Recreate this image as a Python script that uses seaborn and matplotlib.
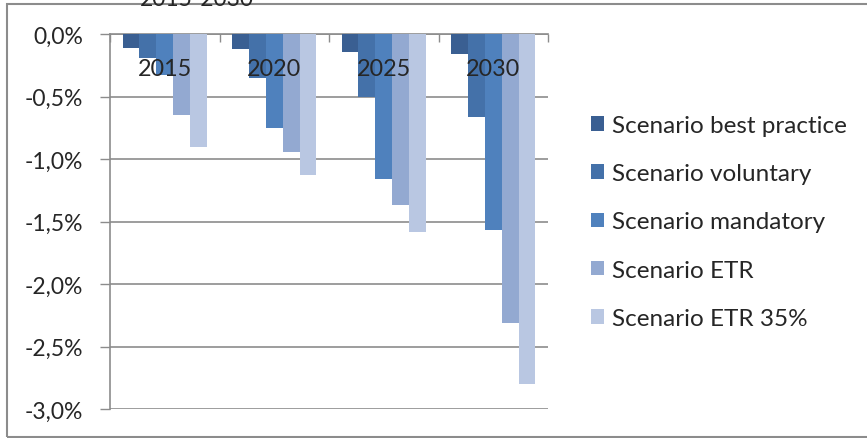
import numpy as np
import pandas as pd
import seaborn as sns
import matplotlib.pyplot as plt
from matplotlib.patches import Rectangle
from matplotlib.ticker import FuncFormatter

# values, in percent
years = ["2015", "2020", "2025", "2030"]
scenarios = ["Scenario best practice", "Scenario voluntary", "Scenario mandatory",
             "Scenario ETR", "Scenario ETR 35%"]
best_practice = [-0.11, -0.12, -0.14, -0.16]
voluntary = [-0.19, -0.35, -0.50, -0.66]
mandatory = [-0.33, -0.75, -1.16, -1.57]
etr = [-0.65, -0.94, -1.37, -2.31]
etr35 = [-0.90, -1.13, -1.58, -2.80]
colors = ["#3A5F92", "#4471A9", "#4F81BD", "#93A9D1", "#B9C7E2"]

series = [best_practice, voluntary, mandatory, etr, etr35]
rows = []
for name, vals in zip(scenarios, series):
    for yr, v in zip(years, vals):
        rows.append({"year": yr, "scenario": name, "value": v})
df = pd.DataFrame(rows)

sns.set_style("white")
plt.rcParams["font.family"] = ["Lato", "DejaVu Sans"]

fig = plt.figure(figsize=(8.67, 4.39), dpi=100)
W, H = 867, 439
ax = fig.add_axes([110 / W, 1 - 410 / H, (548 - 110) / W, (410 - 35) / H])

sns.barplot(data=df, x="year", y="value", hue="scenario", palette=colors,
            width=0.77, gap=0, saturation=1, linewidth=0, edgecolor="none",
            ax=ax, zorder=3, legend=True)

grey = "#8C8C8C"
ax.set_ylim(-3.0, 0.0)
ax.set_xlim(-0.5, 3.5)
ax.set_yticks(np.arange(-3.0, 0.01, 0.5))
ax.yaxis.set_major_formatter(FuncFormatter(lambda v, p: f"{v:.1f}%".replace(".", ",")))
ax.yaxis.grid(True, color=grey, linewidth=1.2, zorder=0)
ax.tick_params(axis="y", direction="out", length=7.5, width=1, color=grey,
               labelsize=16.5, pad=12, left=True)
ax.xaxis.set_ticks_position("top")
ax.set_xticks([-0.5, 0.5, 1.5, 2.5, 3.5])
ax.set_xticklabels([])
ax.tick_params(axis="x", direction="in", length=6, width=1, color=grey, top=True)
for s in ["right", "bottom"]:
    ax.spines[s].set_visible(False)
for s in ["left", "top"]:
    ax.spines[s].set_color(grey)
    ax.spines[s].set_linewidth(1.2)
ax.set_xlabel("")
ax.set_ylabel("")

# category labels sit near the zero line, over the bars
for i, yr in enumerate(years):
    ax.text(i, -0.28, yr, ha="center", va="center", fontsize=16.8, zorder=5)

handles, labels = ax.get_legend_handles_labels()
ax.legend_.remove()
fig.legend(handles, labels, loc="upper left", bbox_to_anchor=(591 / W, 1 - 116 / H),
           frameon=False, fontsize=17.5, handlelength=0.55, handleheight=0.55,
           handletextpad=0.3, labelspacing=1.12, borderpad=0, borderaxespad=0)

# chart frame and the clipped title above it
fig.patches.append(Rectangle((7 / W, 1 - 438 / H), 1, (438 - 5) / H,
                             transform=fig.transFigure, fill=False,
                             edgecolor=grey, linewidth=1.5))
fig.text(197 / W, 1 - 6 / H, "2015-2030", ha="center", va="baseline", fontsize=16.5)

fig.savefig("out.png", dpi=100)
